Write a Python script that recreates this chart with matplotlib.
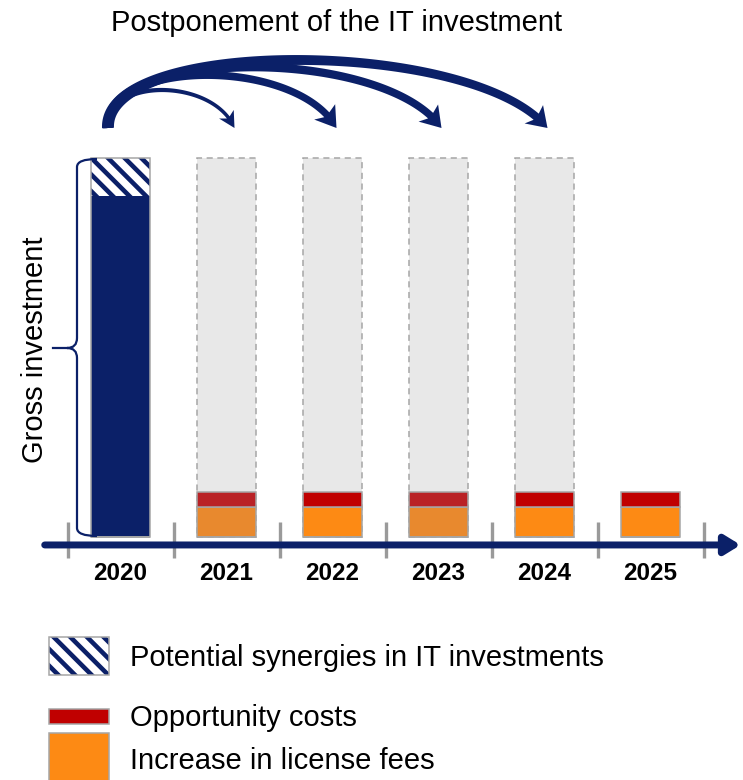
import numpy as np
import matplotlib
matplotlib.use("Agg")
import matplotlib.pyplot as plt
from matplotlib.patches import Rectangle, Polygon, PathPatch
from matplotlib.path import Path

plt.rcParams['font.family'] = ['Liberation Sans', 'DejaVu Sans']
plt.rcParams['hatch.linewidth'] = 3.3

# ---------------- data ----------------
years = ['2020', '2021', '2022', '2023', '2024', '2025']
gross_investment = [90, 0, 0, 0, 0, 0]        # realised IT investment (2020)
synergies = [10, 0, 0, 0, 0, 0]               # potential synergies on top
postponed = [0, 100, 100, 100, 100, 0]        # postponed investment (grey, dashed)
license_fees = [0, 8, 8, 8, 8, 8]             # increase in license fees
opportunity = [0, 4, 4, 4, 4, 4]              # opportunity costs
arrow_targets = [1, 2, 3, 4]                  # years the investment is postponed to

title = 'Postponement of the IT investment'
bracket_label = 'Gross investment'
legend_labels = ['Potential synergies in IT investments',
                 'Opportunity costs', 'Increase in license fees']

# ---------------- colours ----------------
NAVY = '#0b2068'
GREY_FILL = '#e8e8e8'
GREY_EDGE = '#a6a6a6'
RED = ['#c00000', '#b92226', '#c00000', '#b92226', '#c00000', '#c00000']
ORANGE = ['#fd8a14', '#e8892e', '#fd8a14', '#e8892e', '#fd8a14', '#fd8a14']

W, H = 743, 780
fig = plt.figure(figsize=(W / 100, H / 100), dpi=100)

# main axes: x in category units, y in value units
PX_X0, PX_PER_X = 120.5, 106.0      # pixel of category 0, pixels per category
PX_Y0, PX_PER_Y = 537.0, 3.79       # pixel of value 0, pixels per value unit
ax = fig.add_axes([0, 0, 1, 1])
ax.set_xlim(-PX_X0 / PX_PER_X, (W - PX_X0) / PX_PER_X)
ax.set_ylim(-(H - PX_Y0) / PX_PER_Y, PX_Y0 / PX_PER_Y)
ax.axis('off')

x = np.arange(len(years))
bw = 0.566

# 2020: gross investment + hatched synergies
ax.bar(x, gross_investment, width=bw, color=NAVY, edgecolor='none', zorder=3)
ax.bar(x, synergies, bottom=gross_investment, width=bw, color='white',
       hatch='\\\\', edgecolor=NAVY, linewidth=0, zorder=3)
tot = np.array(gross_investment) + np.array(synergies)
ax.bar(x, tot, width=bw, fill=False, edgecolor=GREY_EDGE, linewidth=1.1, zorder=4)

# postponed grey dashed bars
ax.bar(x, postponed, width=bw, color=GREY_FILL, edgecolor=GREY_EDGE,
       linewidth=1.1, linestyle=(0, (4, 3)), zorder=2)
# license fees and opportunity costs
ax.bar(x, license_fees, width=bw, color=ORANGE, edgecolor=GREY_EDGE, linewidth=1.1, zorder=3)
ax.bar(x, opportunity, bottom=license_fees, width=bw, color=RED,
       edgecolor=GREY_EDGE, linewidth=1.1, zorder=3)

# timeline
ticks = np.arange(len(years) + 1) - 0.5
ax.vlines(ticks, -5.6, 4.0, color='#9a9a9a', linewidth=2.4, zorder=1)
ax.annotate('', xy=(5.85, -2.1), xytext=(-0.715, -2.1),
            arrowprops=dict(arrowstyle='-|>,head_length=0.65,head_width=0.4',
                            lw=5, color=NAVY, mutation_scale=14,
                            shrinkA=0, shrinkB=0), zorder=2)
for xi, lab in zip(x, years):
    ax.text(xi, -9.6, lab, ha='center', va='center', fontsize=17.5,
            fontweight='bold', color='black')

# ---------------- overlay in pixel coordinates ----------------
ov = fig.add_axes([0, 0, 1, 1], zorder=5)
ov.set_xlim(0, W)
ov.set_ylim(H, 0)
ov.axis('off')
ov.patch.set_alpha(0)

ov.text(337, 23, title, ha='center', va='center', fontsize=21, color='black')


def curved_arrow(p0, c1, c2, p3, w0, w1, hw, hl, color):
    p0, c1, c2, p3 = map(np.asarray, (p0, c1, c2, p3))
    t = np.linspace(0, 1, 600)[:, None]
    P = ((1 - t) ** 3 * p0 + 3 * t * (1 - t) ** 2 * c1
         + 3 * t ** 2 * (1 - t) * c2 + t ** 3 * p3)
    D = (3 * (1 - t) ** 2 * (c1 - p0) + 6 * t * (1 - t) * (c2 - c1)
         + 3 * t ** 2 * (p3 - c2))
    D = D / np.linalg.norm(D, axis=1, keepdims=True)
    N = np.column_stack([-D[:, 1], D[:, 0]])
    dist = np.linalg.norm(P - p3, axis=1)
    k = np.argmax(dist < hl)
    Pb, Nb = P[:k], N[:k]
    w = np.linspace(w0, w1, k)[:, None]
    left = Pb + Nb * w / 2
    right = Pb - Nb * w / 2
    B = P[k]
    d = (p3 - B) / np.linalg.norm(p3 - B)
    n = np.array([-d[1], d[0]])
    back = B - d * 4
    head = [back + n * hw / 2, p3, back - n * hw / 2]
    pts = np.vstack([left, head, right[::-1]])
    ov.add_patch(Polygon(pts, closed=True, color=color, lw=0, zorder=6))


start = (108, 128)
tops = [90, 75, 67, 60]
specs = [(5, 3.5, 17, 12), (9, 7, 26, 16), (10, 7.5, 26, 16), (12, 8, 26, 16)]
offs = [8, 4, 3, 3]
for tgt, top, (w0, w1, hw, hl), off in zip(arrow_targets, tops, specs, offs):
    ex = PX_X0 + tgt * PX_PER_X + off
    span = ex - start[0]
    cy = (top - 32) / 0.75
    c1 = (104, cy)
    c2 = (ex - 0.17 * span, cy)
    curved_arrow(start, c1, c2, (ex, 128), w0, w1, hw, hl, NAVY)

# bracket
verts = [(97, 159), (77, 159), (77, 167), (77, 338), (77, 348), (67, 348),
         (77, 348), (77, 358), (77, 528), (77, 536), (97, 536)]
codes = [Path.MOVETO, Path.CURVE3, Path.CURVE3, Path.LINETO, Path.CURVE3, Path.CURVE3,
         Path.CURVE3, Path.CURVE3, Path.LINETO, Path.CURVE3, Path.CURVE3]
ov.add_patch(PathPatch(Path(verts, codes), fill=False, edgecolor=NAVY, lw=1.6, zorder=6))
ov.plot([53, 68], [348, 348], color=NAVY, lw=1.6, zorder=6)
ov.text(35, 350, bracket_label, rotation=90, ha='center', va='center',
        fontsize=21, color='black')

# legend
ov.add_patch(Rectangle((49, 637), 60, 38, facecolor='white', hatch='\\\\',
                       edgecolor=NAVY, lw=0, zorder=6))
ov.add_patch(Rectangle((49, 637), 60, 38, fill=False, edgecolor=GREY_EDGE, lw=1.1, zorder=7))
ov.add_patch(Rectangle((49, 709), 60, 15, facecolor=RED[0], edgecolor=GREY_EDGE, lw=1.1, zorder=6))
ov.add_patch(Rectangle((49, 733), 60, 50, facecolor=ORANGE[0], edgecolor=GREY_EDGE, lw=1.1, zorder=6))
for yy, lab in zip([658, 718, 761], legend_labels):
    ov.text(130, yy, lab, ha='left', va='center', fontsize=21, color='black')

fig.savefig('out.png', dpi=100)
